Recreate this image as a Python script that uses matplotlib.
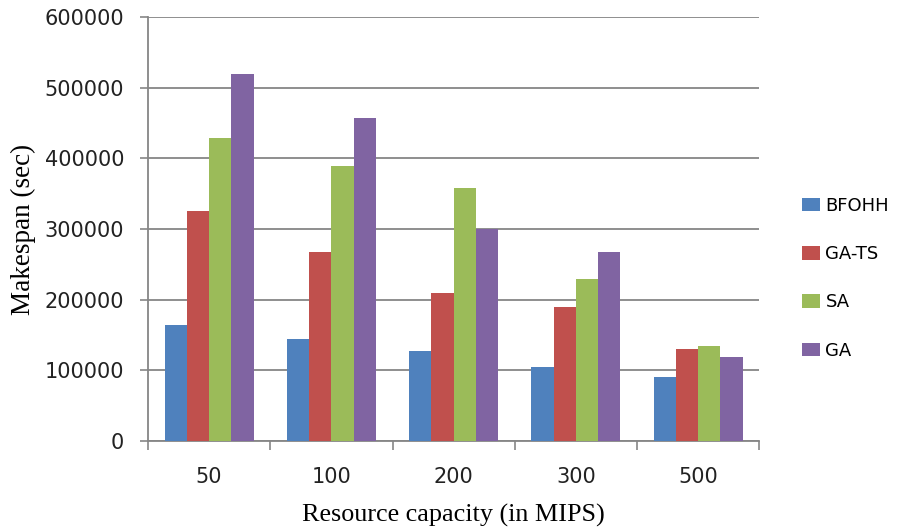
import matplotlib.pyplot as plt
import numpy as np

capacity = ['50', '100', '200', '300', '500']
algorithms = ['BFOHH', 'GA-TS', 'SA', 'GA']
bfohh = [164000, 144000, 127000, 105000, 91000]
ga_ts = [325000, 268000, 209000, 189000, 130000]
sa = [429000, 389000, 358000, 229000, 135000]
ga = [519000, 457000, 300000, 268000, 119000]
colors = ['#4F81BD', '#C0504D', '#9BBB59', '#8064A2']

series = [bfohh, ga_ts, sa, ga]

fig = plt.figure(figsize=(8.99, 5.32), dpi=100)
ax = fig.add_axes([0.1646, 0.171, 0.680, 0.797])

# grouped bars, four algorithms per capacity
x = np.arange(len(capacity))
w = 0.182
for i, (vals, name, c) in enumerate(zip(series, algorithms, colors)):
    ax.bar(x + (i - 1.5) * w, vals, width=w, color=c, label=name, zorder=3)

ax.set_xlim(-0.5, len(capacity) - 0.5)
ax.set_ylim(0, 600000)
ax.set_yticks(np.arange(0, 600001, 100000))
ax.set_yticklabels([str(v) for v in range(0, 600001, 100000)],
                   fontsize=15, family='DejaVu Sans', color='#222222')
ax.set_xticks(x)
ax.set_xticklabels(capacity, fontsize=15, family='DejaVu Sans', color='#222222')
# tick marks sit between the groups
ax.set_xticks(np.arange(-0.5, len(capacity)), minor=True)
ax.tick_params(axis='x', which='major', length=0, pad=19)
ax.tick_params(axis='x', which='minor', length=6.5, color='#868686', width=1.2)
ax.tick_params(axis='y', length=6, color='#868686', width=1.2, pad=11)

ax.grid(axis='y', color='#868686', linewidth=1.3, zorder=0)
for side in ['top', 'right']:
    ax.spines[side].set_visible(False)
for side in ['left', 'bottom']:
    ax.spines[side].set_color('#868686')
    ax.spines[side].set_linewidth(1.3)

ax.set_ylabel('Makespan (sec)', fontsize=19.5, family='Liberation Serif', labelpad=6)
ax.set_xlabel('Resource capacity (in MIPS)', fontsize=18.8, family='Liberation Serif', labelpad=12)

ax.legend(loc='center left', bbox_to_anchor=(0.892, 0.477),
          bbox_transform=fig.transFigure, frameon=False,
          prop={'family': 'DejaVu Sans', 'size': 13},
          borderpad=0, borderaxespad=0,
          handlelength=1.0, handleheight=0.8, handletextpad=0.3, labelspacing=1.68)

fig.savefig('out.png', dpi=100)
